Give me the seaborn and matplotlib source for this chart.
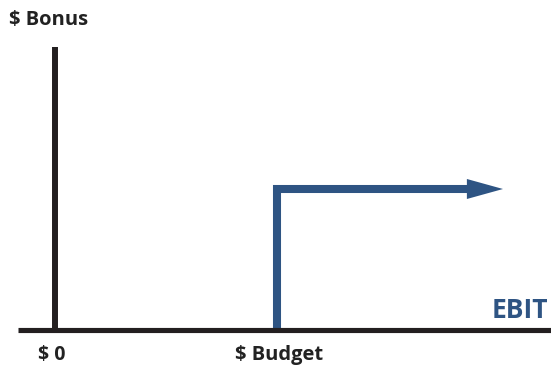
import matplotlib
matplotlib.use("Agg")
import matplotlib.pyplot as plt
import seaborn as sns
import pandas as pd

sns.set_theme(style="white")
plt.rcParams['font.family'] = ['Open Sans', 'DejaVu Sans']

# Conceptual data (EBIT in units of budget, bonus in units of target bonus)
x_tick_values = [0.0, 1.0]
x_tick_labels = ["$ 0", "$ Budget"]
step_ebit = [1.0, 1.0, 1.86]
step_bonus = [0.0, 1.0, 1.0]
arrow_tip_ebit = 2.018
y_axis_top = 2.007
x_axis_left = -0.167
x_axis_right = 2.24
y_label = "$ Bonus"
x_label = "EBIT"

BLACK = "#231f20"
BLUE = "#2e5483"

fig = plt.figure(figsize=(5.51, 3.69), dpi=100)
ax = fig.add_axes([0, 0, 1, 1])
ax.set_xlim(-55 / 222, 496 / 222)
ax.set_ylim(-39 / 141, 330 / 141)
ax.axis("off")

df = pd.DataFrame({"ebit": step_ebit, "bonus": step_bonus})
sns.lineplot(data=df, x="ebit", y="bonus", sort=False, estimator=None, ax=ax,
             color=BLUE, lw=5.8, solid_joinstyle="miter", solid_capstyle="butt")

ax.annotate("", xy=(arrow_tip_ebit, step_bonus[-1]), xytext=(step_ebit[-1] - 0.05, step_bonus[-1]),
            arrowprops=dict(arrowstyle="-|>,head_length=2.6,head_width=0.72", mutation_scale=10,
                            lw=0, color=BLUE, shrinkA=0, shrinkB=0))

# axes lines
ax.plot([0, 0], [0, y_axis_top], color=BLACK, lw=4.3, solid_capstyle="butt", zorder=5)
ax.plot([x_axis_left, x_axis_right], [0, 0], color=BLACK, lw=3.7, solid_capstyle="butt", zorder=6)

ax.text(x_tick_values[0] - 0.015, -0.18, x_tick_labels[0], ha="center", va="center",
        fontsize=14, fontweight="bold", color="#222222")
ax.text(x_tick_values[1] + 0.01, -0.18, x_tick_labels[1], ha="center", va="center",
        fontsize=14.5, fontweight="bold", color="#222222")

ax.text(-0.205, 2.2, y_label, ha="left", va="center", fontsize=14.5, fontweight="bold", color="#222222")
ax.text(2.222, 0.135, x_label, ha="right", va="center", fontsize=19, fontweight="bold", color=BLUE)

fig.savefig("out.png", dpi=100)
